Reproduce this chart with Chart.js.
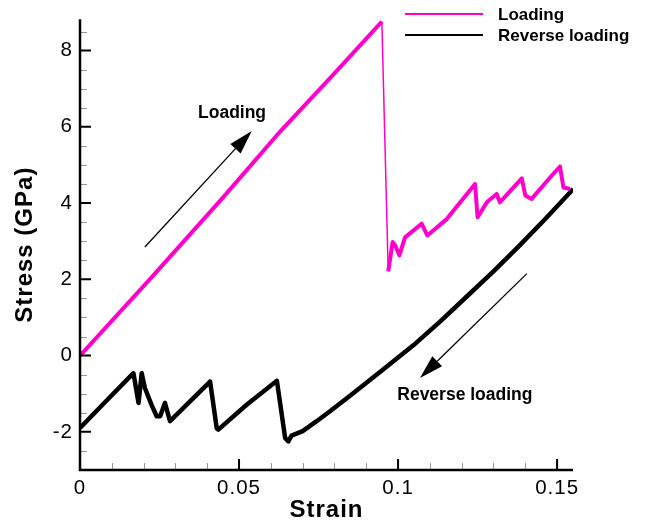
<!DOCTYPE html>
<html>
<head>
<meta charset="utf-8">
<script src="https://cdn.jsdelivr.net/npm/chart.js@4.4.1/dist/chart.umd.min.js"></script>
<style>
  html, body { margin: 0; padding: 0; background: #fff; }
  #wrap { width: 645px; height: 523px; }
</style>
</head>
<body>
<div id="wrap"><canvas id="stressChart"></canvas></div>
<script>
// loading curve (strain, stress in GPa)
var loadStrain = [0, 0.0225, 0.045, 0.0619, 0.080, 0.0949, 0.0969, 0.0983, 0.0991, 0.1004, 0.1022,
    0.1074, 0.1092, 0.1153, 0.1242, 0.1250, 0.1279, 0.1310, 0.1320, 0.1389, 0.1400, 0.1420, 0.1478,
    0.1509, 0.1520, 0.1541];
var loadStress = [0, 2.05, 4.15, 5.78, 7.4, 8.76, 2.21, 2.98, 2.89, 2.63, 3.1,
    3.46, 3.15, 3.58, 4.50, 3.63, 4.02, 4.24, 4.02, 4.65, 4.20, 4.11, 4.67,
    4.96, 4.41, 4.37];

// reverse loading curve
var revStrain = [0.1551, 0.1465, 0.1380, 0.1300, 0.1216, 0.1132, 0.1048, 0.0954, 0.0849, 0.0786, 0.0744,
    0.0700, 0.0665, 0.0655, 0.0645, 0.0619, 0.0524, 0.0435, 0.0430, 0.0409, 0.0346, 0.0283, 0.0267,
    0.0252, 0.0241, 0.0225, 0.0204, 0.0194, 0.0184, 0.0168, 0.0080, 0];
var revStress = [4.37, 3.6, 2.87, 2.21, 1.55, 0.89, 0.27, -0.36, -1.05, -1.46, -1.72,
    -1.98, -2.1, -2.25, -2.16, -0.66, -1.29, -1.94, -1.91, -0.68, -1.2, -1.72, -1.24,
    -1.59, -1.59, -1.29, -0.85, -0.46, -1.24, -0.46, -1.21, -1.9];

var strainTicks = [0, 0.05, 0.1, 0.15];
var stressTicks = [-2, 0, 2, 4, 6, 8];
var seriesNames = ['Loading', 'Reverse loading'];
var seriesColors = ['#ff00cc', '#000000'];

// text notes and arrows, in data units
var notes = [
    { text: 'Loading', x: 0.0478, y: 6.37 },
    { text: 'Reverse loading', x: 0.121, y: -1.03 }
];
var arrows = [
    { from: [0.0204, 2.85], to: [0.054, 5.89] },
    { from: [0.1405, 2.15], to: [0.1069, -0.59] }
];

function pairs(xs, ys) {
    return xs.map(function (v, i) { return { x: v, y: ys[i] }; });
}

var FONT = '"Liberation Sans", Arial, sans-serif';

var decor = {
    id: 'decor',
    beforeDraw: function (chart) {
        chart.ctx.letterSpacing = '1px';   // tick labels in the source are wide
    },
    afterDraw: function (chart) {
        var ctx = chart.ctx, a = chart.chartArea, sx = chart.scales.x, sy = chart.scales.y;
        ctx.save();
        ctx.letterSpacing = '0px';

        // minor ticks
        ctx.strokeStyle = '#999';
        ctx.lineWidth = 1;
        ctx.beginPath();
        for (var i = 1; i <= 15; i++) {
            if (i % 5 === 0) continue;
            var px = Math.round(sx.getPixelForValue(i / 100)) + 0.5;
            ctx.moveTo(px, a.bottom); ctx.lineTo(px, a.bottom - 7);
        }
        for (var j = -5; j <= 17; j++) {
            if (j % 4 === 0) continue;
            var py = Math.round(sy.getPixelForValue(j / 2)) + 0.5;
            ctx.moveTo(a.left, py); ctx.lineTo(a.left + 7, py);
        }
        ctx.stroke();

        // major ticks
        ctx.strokeStyle = '#000';
        ctx.lineWidth = 2;
        ctx.beginPath();
        strainTicks.forEach(function (v) {
            var px = sx.getPixelForValue(v);
            ctx.moveTo(px, a.bottom); ctx.lineTo(px, a.bottom - 11);
        });
        stressTicks.forEach(function (v) {
            var py = sy.getPixelForValue(v);
            ctx.moveTo(a.left, py); ctx.lineTo(a.left + 11, py);
        });
        ctx.stroke();

        // axis lines
        ctx.lineWidth = 2.5;
        ctx.beginPath();
        ctx.moveTo(a.left, a.top); ctx.lineTo(a.left, a.bottom); ctx.lineTo(a.right, a.bottom);
        ctx.stroke();

        // arrows
        ctx.fillStyle = '#000';
        arrows.forEach(function (ar) {
            var x0 = sx.getPixelForValue(ar.from[0]), y0 = sy.getPixelForValue(ar.from[1]);
            var x1 = sx.getPixelForValue(ar.to[0]), y1 = sy.getPixelForValue(ar.to[1]);
            var ang = Math.atan2(y1 - y0, x1 - x0), hl = 24, hw = 7;
            var bx = x1 - hl * Math.cos(ang), by = y1 - hl * Math.sin(ang);
            ctx.lineWidth = 1.3;
            ctx.beginPath(); ctx.moveTo(x0, y0); ctx.lineTo(bx, by); ctx.stroke();
            ctx.beginPath();
            ctx.moveTo(x1, y1);
            ctx.lineTo(bx + hw * Math.sin(ang), by - hw * Math.cos(ang));
            ctx.lineTo(bx - hw * Math.sin(ang), by + hw * Math.cos(ang));
            ctx.closePath(); ctx.fill();
        });

        // notes
        ctx.font = 'bold 17.5px ' + FONT;
        ctx.textAlign = 'center';
        ctx.textBaseline = 'middle';
        notes.forEach(function (n) {
            ctx.fillText(n.text, sx.getPixelForValue(n.x), sy.getPixelForValue(n.y));
        });

        // legend
        ctx.font = 'bold 17px ' + FONT;
        ctx.textAlign = 'left';
        seriesNames.forEach(function (name, k) {
            var ly = 14 + k * 21;
            ctx.strokeStyle = seriesColors[k];
            ctx.lineWidth = 2;
            ctx.beginPath(); ctx.moveTo(405, ly); ctx.lineTo(483, ly); ctx.stroke();
            ctx.fillStyle = '#000';
            ctx.fillText(name, 498, ly + 1);
        });
        ctx.restore();
    }
};

var ctxS = document.getElementById('stressChart').getContext('2d');
var stressChart = new Chart(ctxS, {
    type: 'line',
    data: {
        datasets: [{
            label: seriesNames[0],
            data: pairs(loadStrain, loadStress),
            borderColor: seriesColors[0],
            borderWidth: 4,
            pointRadius: 0,
            borderJoinStyle: 'round',
            segment: {
                borderWidth: function (c) { return (c.p0.parsed.y - c.p1.parsed.y > 3) ? 1.5 : 4; }
            }
        }, {
            label: seriesNames[1],
            data: pairs(revStrain, revStress),
            borderColor: seriesColors[1],
            borderWidth: 4.5,
            pointRadius: 0,
            borderJoinStyle: 'round'
        }]
    },
    options: {
        responsive: true,
        maintainAspectRatio: false,
        animation: false,
        layout: { padding: { left: 0, right: 72, top: 17, bottom: 0 } },
        plugins: { legend: { display: false }, tooltip: { enabled: false } },
        scales: {
            x: {
                type: 'linear',
                min: 0,
                max: 0.155,
                border: { display: false },
                grid: { display: false, drawTicks: false },
                afterBuildTicks: function (s) { s.ticks = strainTicks.map(function (v) { return { value: v }; }); },
                afterFit: function (s) { s.height = 53; },
                ticks: {
                    padding: 6,
                    color: '#000',
                    font: { family: FONT, size: 20.5 },
                    maxRotation: 0,
                    callback: function (v) { return String(+v.toFixed(3)); }
                },
                title: {
                    display: true,
                    text: 'Strain',
                    color: '#000',
                    font: { family: FONT, size: 24, weight: 'bold', lineHeight: 1 },
                    padding: { top: 0, bottom: 1 }
                }
            },
            y: {
                min: -3,
                max: 8.82,
                border: { display: false },
                grid: { display: false, drawTicks: false },
                afterBuildTicks: function (s) { s.ticks = stressTicks.map(function (v) { return { value: v }; }); },
                afterFit: function (s) { s.width = 80; },
                ticks: {
                    padding: 7,
                    color: '#000',
                    font: { family: FONT, size: 20.5 }
                },
                title: {
                    display: true,
                    text: 'Stress (GPa)',
                    color: '#000',
                    font: { family: FONT, size: 24, weight: 'bold', lineHeight: 1 },
                    padding: { top: 13, bottom: 0 }
                }
            }
        }
    },
    plugins: [decor]
});
</script>
</body>
</html>
